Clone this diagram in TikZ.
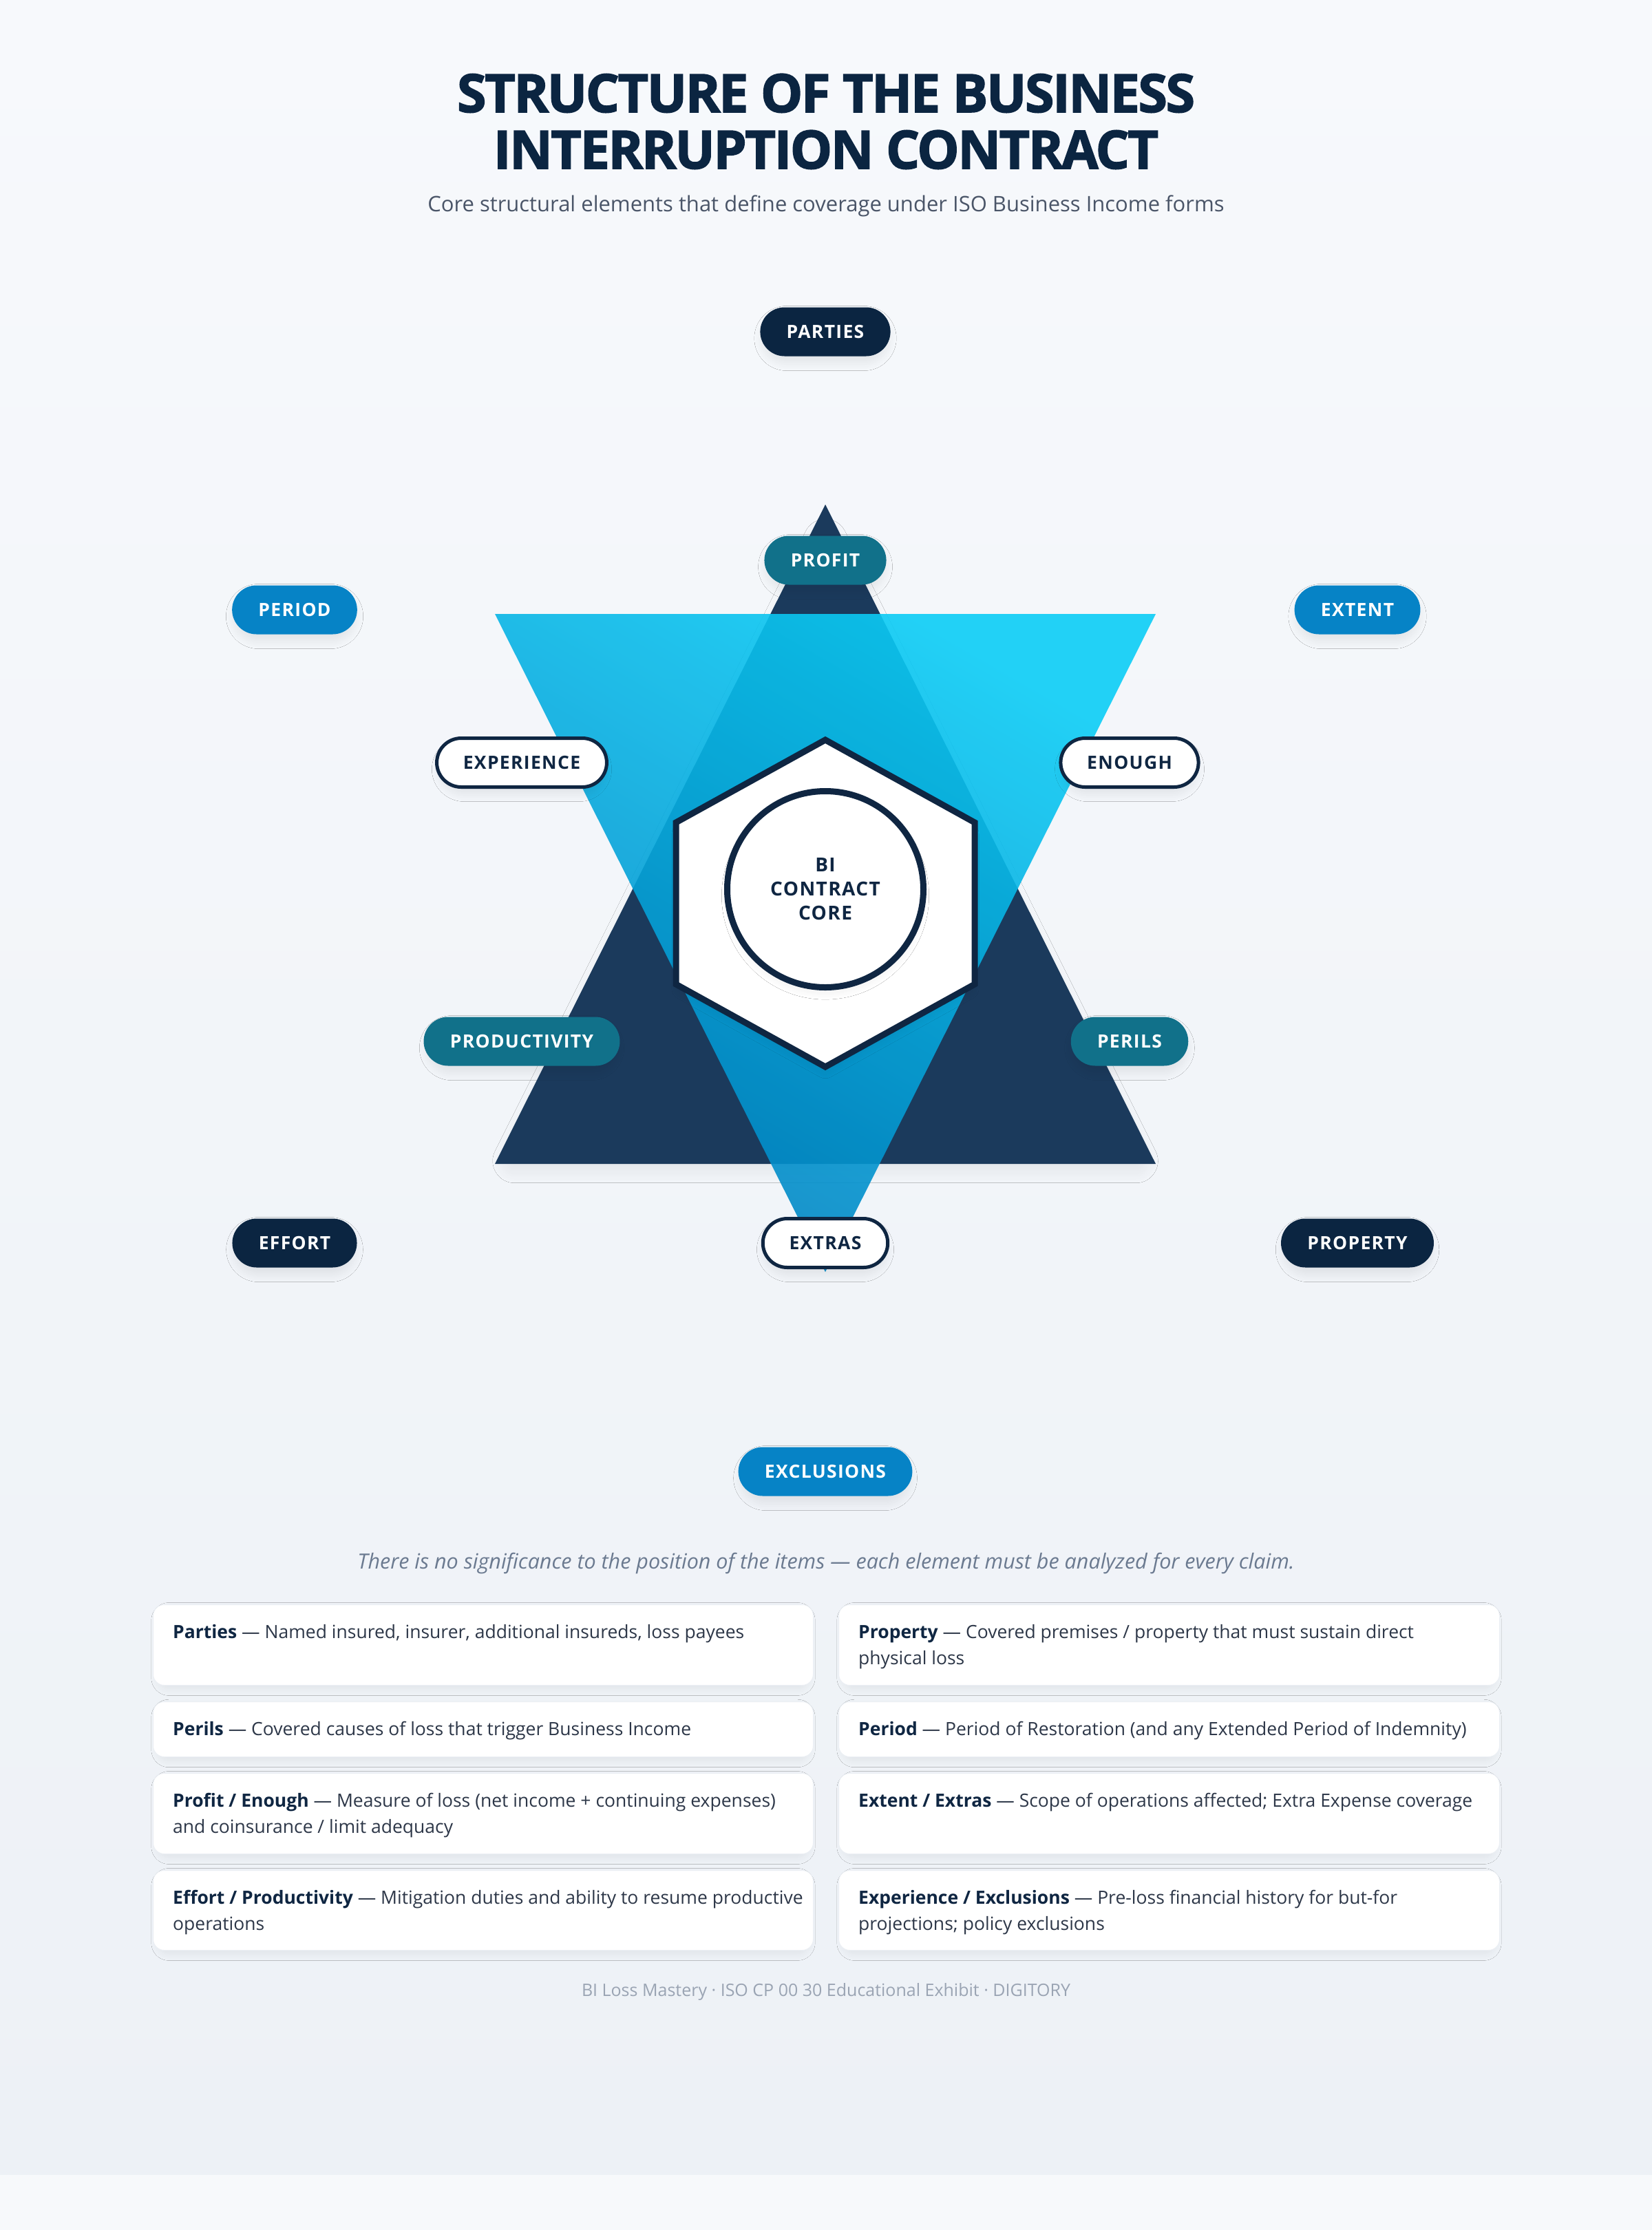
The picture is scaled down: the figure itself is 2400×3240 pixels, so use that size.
\documentclass[tikz,border=0pt]{standalone}
\usepackage{fontspec}
\setmainfont{Open Sans}
\newfontfamily\titlefont[LetterSpace=-3, BoldFeatures={FakeBold=2}]{Open Sans}
\newfontfamily\pillfont[LetterSpace=5]{Open Sans}
\usetikzlibrary{shapes.misc,shadows.blur}

\definecolor{navy}{HTML}{0B2541}
\definecolor{ink}{HTML}{0F2642}
\definecolor{tealc}{HTML}{11718A}
\definecolor{bluec}{HTML}{0683C6}
\definecolor{triDark}{HTML}{1B3A5C}
\definecolor{triLight}{HTML}{0CCDF6}
\definecolor{triDeep}{HTML}{0082C2}
\definecolor{bodyc}{HTML}{2D3748}
\definecolor{subc}{HTML}{4A5568}
\definecolor{notec}{HTML}{6B7A90}
\definecolor{footc}{HTML}{9AA4B3}
\definecolor{bgtop}{HTML}{F7F9FC}
\definecolor{bgbot}{HTML}{EDF1F6}
\definecolor{bgband}{HTML}{F7F9FB}
\definecolor{cardline}{HTML}{EBEFF4}

\begin{document}
\begin{tikzpicture}[x=1pt, y=-1pt,
		pill/.style={rounded rectangle, minimum height=71pt, inner xsep=37pt, inner ysep=0pt, text height=19pt, text depth=0pt,
			font=\pillfont\bfseries\fontsize{26.5}{30}\selectfont,
			blur shadow={shadow xshift=0pt, shadow yshift=-10pt, shadow scale=0.95, shadow blur radius=14pt, shadow blur steps=16, shadow opacity=9}},
		navypill/.style={pill, fill=navy, text=white},
		tealpill/.style={pill, fill=tealc, text=white},
		bluepill/.style={pill, fill=bluec, text=white},
		whitepill/.style={pill, fill=white, draw=ink, line width=5pt, text=ink},
		card/.style={rectangle, rounded corners=16pt, fill=white, draw=cardline, line width=1pt, anchor=north west, inner sep=0pt,
			blur shadow={shadow xshift=0pt, shadow yshift=-6pt, shadow scale=0.985, shadow blur radius=10pt, shadow blur steps=12, shadow opacity=6}},
		cardtext/.style={anchor=north west, inner sep=0pt, align=left, text=bodyc, font=\fontsize{26.5}{38}\selectfont},
		lead/.style={anchor=base, inner sep=0pt}]
	% \draw[help lines, step=100] (0,0) grid (2400,3240);
	\useasboundingbox (0,0) rectangle (2400,3240);
	\shade[top color=bgtop, bottom color=bgbot] (0,0) rectangle (2400,3160);
	\fill[bgband] (0,3160) rectangle (2400,3240);

	\node[lead, text=navy, font=\titlefont\bfseries\fontsize{77}{82}\selectfont] (title) at (1200,163) {STRUCTURE OF THE BUSINESS};
	\node[lead, text=navy, font=\titlefont\bfseries\fontsize{77}{82}\selectfont] (titleb) at (1200,245) {INTERRUPTION CONTRACT};
	\node[lead, text=subc, font=\fontsize{31}{36}\selectfont] (subtitle) at (1200,307) {Core structural elements that define coverage under ISO Business Income forms};

	% the two triangles and the core
	\fill[triDark, blur shadow={shadow xshift=0pt, shadow yshift=-26pt, shadow scale=0.94, shadow blur radius=34pt, shadow blur steps=20, shadow opacity=12}] (1199,733) -- (1679,1691) -- (719,1691) -- cycle;
	\shade[top color=triLight, bottom color=triDeep, shading angle=-30, opacity=0.9] (719,892) -- (1679,892) -- (1199,1848) -- cycle;
	\filldraw[fill=white, draw=ink, line width=9pt, blur shadow={shadow xshift=0pt, shadow yshift=-12pt, shadow scale=0.95, shadow blur radius=18pt, shadow blur steps=16, shadow opacity=10}]
		(1199,1075) -- (1416,1195) -- (1416,1430) -- (1199,1550) -- (982,1430) -- (982,1195) -- cycle;
	\node[circle, draw=ink, line width=9pt, fill=white, minimum size=285pt, align=center, text=ink,
		font=\pillfont\bfseries\fontsize{28}{35}\selectfont,
		blur shadow={shadow xshift=0pt, shadow yshift=-10pt, shadow scale=0.95, shadow blur radius=16pt, shadow blur steps=16, shadow opacity=10}] (core) at (1199,1292) {BI\\CONTRACT\\CORE};

	\node[navypill] (parties) at (1199,482) {PARTIES};
	\node[tealpill] (profit) at (1199,814) {PROFIT};
	\node[bluepill] (period) at (428,886) {PERIOD};
	\node[bluepill] (extent) at (1972,886) {EXTENT};
	\node[whitepill] (experience) at (758,1108) {EXPERIENCE};
	\node[whitepill] (enough) at (1641,1108) {ENOUGH};
	\node[tealpill] (productivity) at (758,1513) {PRODUCTIVITY};
	\node[tealpill] (perils) at (1641,1513) {PERILS};
	\node[navypill] (effort) at (428,1806) {EFFORT};
	\node[whitepill] (extras) at (1199,1806) {EXTRAS};
	\node[navypill] (property) at (1972,1806) {PROPERTY};
	\node[bluepill] (exclusions) at (1199,2138) {EXCLUSIONS};

	\node[lead, text=notec, font=\itshape\fontsize{30.5}{36}\selectfont] (note) at (1200,2279) {There is no significance to the position of the items — each element must be analyzed for every claim.};

	% cards
	\node[card, minimum width=959pt, minimum height=117pt] (cardParties) at (222,2331) {};
	\node[card, minimum width=959pt, minimum height=80pt] (cardPerils) at (222,2472) {};
	\node[card, minimum width=959pt, minimum height=117pt] (cardProfit) at (222,2576) {};
	\node[card, minimum width=959pt, minimum height=116pt] (cardEffort) at (222,2717) {};
	\node[card, minimum width=960pt, minimum height=117pt] (cardProperty) at (1218,2331) {};
	\node[card, minimum width=960pt, minimum height=80pt] (cardPeriod) at (1218,2472) {};
	\node[card, minimum width=960pt, minimum height=117pt] (cardExtent) at (1218,2576) {};
	\node[card, minimum width=960pt, minimum height=116pt] (cardExperience) at (1218,2717) {};

	\node[cardtext] (txtParties) at (251,2354) {\strut\textbf{\color{ink}Parties} — Named insured, insurer, additional insureds, loss payees};
	\node[cardtext] (txtPerils) at (251,2495) {\strut\textbf{\color{ink}Perils} — Covered causes of loss that trigger Business Income};
	\node[cardtext] (txtProfit) at (251,2599) {\strut\textbf{\color{ink}Profit / Enough} — Measure of loss (net income + continuing expenses)\\and coinsurance / limit adequacy};
	\node[cardtext] (txtEffort) at (251,2740) {\strut\textbf{\color{ink}Effort / Productivity} — Mitigation duties and ability to resume productive\\operations};
	\node[cardtext] (txtProperty) at (1247,2354) {\strut\textbf{\color{ink}Property} — Covered premises / property that must sustain direct\\physical loss};
	\node[cardtext] (txtPeriod) at (1247,2495) {\strut\textbf{\color{ink}Period} — Period of Restoration (and any Extended Period of Indemnity)};
	\node[cardtext] (txtExtent) at (1247,2599) {\strut\textbf{\color{ink}Extent / Extras} — Scope of operations affected; Extra Expense coverage};
	\node[cardtext] (txtExperience) at (1247,2740) {\strut\textbf{\color{ink}Experience / Exclusions} — Pre-loss financial history for but-for\\projections; policy exclusions};

	\node[lead, text=footc, font=\fontsize{25}{30}\selectfont] (footer) at (1200,2900) {BI Loss Mastery · ISO CP 00 30 Educational Exhibit · DIGITORY};
\end{tikzpicture}
\end{document}
